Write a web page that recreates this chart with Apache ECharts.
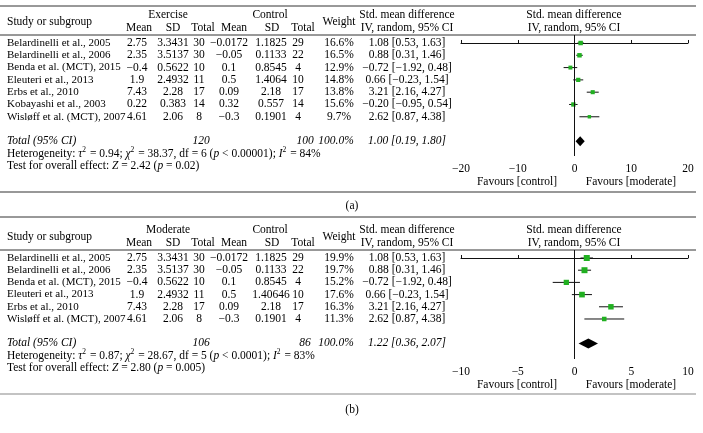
<!DOCTYPE html>
<html><head><meta charset="utf-8">
<script src="https://cdn.jsdelivr.net/npm/echarts@6/dist/echarts.min.js"></script>
<style>html,body{margin:0;padding:0;background:#fff}#c{width:703px;height:433px}</style>
</head><body><div id="c"></div>
<script>
// ---------- DATA: panel (a) ----------
const studiesA = ['Belardinelli et al., 2005','Belardinelli et al., 2006','Benda et al. (MCT), 2015','Eleuteri et al., 2013','Erbs et al., 2010','Kobayashi et al., 2003','Wisløff et al. (MCT), 2007'];
const expMeanA = [2.75, 2.35, -0.4, 1.9, 7.43, 0.22, 4.61];
const expSDA   = ['3.3431','3.5137','0.5622','2.4932','2.28','0.383','2.06'];
const expNA    = [30, 30, 10, 11, 17, 14, 8];
const ctlMeanA = [-0.0172, -0.05, 0.1, 0.5, 0.09, 0.32, -0.3];
const ctlSDA   = ['1.1825','0.1133','0.8545','1.4064','2.18','0.557','0.1901'];
const ctlNA    = [29, 22, 4, 10, 17, 14, 4];
const weightA  = [16.6, 16.5, 12.9, 14.8, 13.8, 15.6, 9.7];
const smdA     = [1.08, 0.88, -0.72, 0.66, 3.21, -0.20, 2.62];
const loA      = [0.53, 0.31, -1.92, -0.23, 2.16, -0.95, 0.87];
const hiA      = [1.63, 1.46, 0.48, 1.54, 4.27, 0.54, 4.38];
const totalA   = [1.00, 0.19, 1.80];
const totalNA  = [120, 100];
const ticksA   = [-20, 20, 10];
const hetA  = 'Heterogeneity: {i|τ}{s|2} = 0.94; {i|χ}{s|2} = 38.37, df = 6 ({i|p} < 0.00001); {i|I}{s|2} = 84%';
const testA = 'Test for overall effect: {i|Z} = 2.42 ({i|p} = 0.02)';

// ---------- DATA: panel (b) ----------
const studiesB = ['Belardinelli et al., 2005','Belardinelli et al., 2006','Benda et al. (MCT), 2015','Eleuteri et al., 2013','Erbs et al., 2010','Wisløff et al. (MCT), 2007'];
const modMeanB = [2.75, 2.35, -0.4, 1.9, 7.43, 4.61];
const modSDB   = ['3.3431','3.5137','0.5622','2.4932','2.28','2.06'];
const modNB    = [30, 30, 10, 11, 17, 8];
const ctlMeanB = [-0.0172, -0.05, 0.1, 0.5, 0.09, -0.3];
const ctlSDB   = ['1.1825','0.1133','0.8545','1.40646','2.18','0.1901'];
const ctlNB    = [29, 22, 4, 10, 17, 4];
const weightB  = [19.9, 19.7, 15.2, 17.6, 16.3, 11.3];
const smdB     = [1.08, 0.88, -0.72, 0.66, 3.21, 2.62];
const loB      = [0.53, 0.31, -1.92, -0.23, 2.16, 0.87];
const hiB      = [1.63, 1.46, 0.48, 1.54, 4.27, 4.38];
const totalB   = [1.22, 0.36, 2.07];
const totalNB  = [106, 86];
const ticksB   = [-10, 10, 5];
const hetB  = 'Heterogeneity: {i|τ}{s|2} = 0.87; {i|χ}{s|2} = 28.67, df = 5 ({i|p} < 0.0001); {i|I}{s|2} = 83%';
const testB = 'Test for overall effect: {i|Z} = 2.80 ({i|p} = 0.005)';

// ---------- layout / style ----------
const FONT = '"Liberation Serif","Times New Roman",serif';
const FS = 11.5;
const FSN = 11;
const GREEN = '#21b021';
const chart = echarts.init(document.getElementById('c'), null, {renderer:'canvas'});

function fmt(v){ return String(v).replace('-', '\u2212'); }
function f2(v){ return v.toFixed(2).replace(/-/g, '\u2212'); }

function forestItem(k){
  return function(params, api){
    const est = api.value(0), y = api.value(1), lo = api.value(2), hi = api.value(3), w = api.value(4);
    const pl = api.coord([lo, y]), ph = api.coord([hi, y]), pe = api.coord([est, y]);
    const s = k * Math.sqrt(w);
    return {type:'group', children:[
      {type:'line', shape:{x1:pl[0], y1:pl[1], x2:ph[0], y2:ph[1]}, style:{stroke:'#111', lineWidth:1}},
      {type:'rect', shape:{x:pe[0]-s/2, y:pe[1]-s/2, width:s, height:s}, style:{fill:GREEN}}
    ]};
  };
}
function diamondItem(params, api){
  const est = api.value(0), y = api.value(1), lo = api.value(2), hi = api.value(3);
  const pl = api.coord([lo, y]), ph = api.coord([hi, y]), pe = api.coord([est, y]);
  const h = 5;
  return {type:'polygon', shape:{points:[[pl[0],pl[1]],[pe[0],pe[1]-h],[ph[0],ph[1]],[pe[0],pe[1]+h]]}, style:{fill:'#000'}};
}

function xAx(gi, t){
  return {gridIndex:gi, type:'value', min:t[0], max:t[1], interval:t[2],
    axisLine:{lineStyle:{color:'#111', width:1}},
    axisTick:{inside:true, length:3, lineStyle:{color:'#111'}},
    axisLabel:{fontFamily:FONT, fontSize:FS, color:'#000', margin:7, formatter:v=>fmt(v)},
    splitLine:{show:false}};
}

const rowsA = smdA.map((v,i)=>[v, i, loA[i], hiA[i], weightA[i]]);
const rowsB = smdB.map((v,i)=>[v, i, loB[i], hiB[i], weightB[i]]);
const totIdxA = studiesA.length + 1;
const totIdxB = studiesB.length + 1;

chart.setOption({
  backgroundColor:'#fff',
  animation:false,
  grid:[
    {left:461, width:227, top:35, height:121},
    {left:461, width:227, top:250, height:109}
  ],
  xAxis:[xAx(0, ticksA), xAx(1, ticksB)],
  yAxis:[
    {gridIndex:0, type:'value', inverse:true, min:-0.65, max:9.19, show:false},
    {gridIndex:1, type:'value', inverse:true, min:-0.656, max:8.28, show:false}
  ],
  series:[
    {type:'custom', xAxisIndex:0, yAxisIndex:0, renderItem:forestItem(1.1), data:rowsA,
     markLine:{silent:true, symbol:'none', label:{show:false}, lineStyle:{color:'#111', width:1, type:'solid'}, data:[{xAxis:0}]}},
    {type:'custom', xAxisIndex:0, yAxisIndex:0, renderItem:diamondItem, data:[[totalA[0], totIdxA, totalA[1], totalA[2]]]},
    {type:'custom', xAxisIndex:1, yAxisIndex:1, renderItem:forestItem(1.35), data:rowsB,
     markLine:{silent:true, symbol:'none', label:{show:false}, lineStyle:{color:'#111', width:1, type:'solid'}, data:[{xAxis:0}]}},
    {type:'custom', xAxisIndex:1, yAxisIndex:1, renderItem:diamondItem, data:[[totalB[0], totIdxB, totalB[1], totalB[2]]]}
  ]
});

// ---------- table text ----------
const G = [];
function T(x, y, s, align, opt){
  opt = opt || {};
  const fs = opt.fs || FS;
  G.push({type:'text', x:x, y:y, silent:true, style:{
    text:s, fill:'#000', font:(opt.italic?'italic ':'')+fs+'px '+FONT,
    fontFamily:FONT, fontSize:fs, fontStyle:opt.italic?'italic':'normal',
    align:align||'left', verticalAlign:'middle', textAlign:align||'left', textVerticalAlign:'middle',
    rich:{
      i:{fontStyle:'italic', fontFamily:FONT, fontSize:fs, fill:'#000'},
      s:{fontFamily:FONT, fontSize:7.5, fill:'#000', padding:[0,1,7,0]}
    }
  }});
}
function L(x1, y, x2, color, w){
  G.push({type:'line', silent:true, shape:{x1:x1, y1:y, x2:x2, y2:y}, style:{stroke:color||'#222', lineWidth:w||1}});
}
const COL = {name:7, m1:137, sd1:173, n1:199, m2:229, sd2:271, n2:298, w:339, smd:407, plot:574};

function panel(gi, top, hdrLine, grp, studies, m1, sd1, n1, m2, sd2, n2, w, smd, lo, hi, tot, totN, het, test, favY, bottom, bottomColor, label, labelY){
  const py = i => chart.convertToPixel({gridIndex:gi}, [0, i])[1];
  L(0, top, 696, '#333', 1);
  L(0, hdrLine, 696, '#333', 1);
  const h1 = hdrLine - 20, h2 = hdrLine - 7, hm = hdrLine - 13;
  T(COL.name, hm, 'Study or subgroup');
  T(168, h1, grp, 'center');
  T(270, h1, 'Control', 'center');
  T(139, h2, 'Mean', 'center'); T(173, h2, 'SD', 'center'); T(203, h2, 'Total', 'center');
  T(234, h2, 'Mean', 'center'); T(272, h2, 'SD', 'center'); T(303, h2, 'Total', 'center');
  T(COL.w, hm, 'Weight', 'center');
  T(COL.smd, h1, 'Std. mean difference', 'center');
  T(COL.smd, h2, 'IV, random, 95% CI', 'center');
  T(COL.plot, h1, 'Std. mean difference', 'center');
  T(COL.plot, h2, 'IV, random, 95% CI', 'center');
  studies.forEach((s, i) => {
    const y = py(i);
    T(COL.name, y, s, 'left', {fs:FSN});
    T(COL.m1, y, fmt(m1[i]), 'center');
    T(COL.sd1, y, sd1[i], 'center');
    T(COL.n1, y, String(n1[i]), 'center');
    T(COL.m2, y, fmt(m2[i]), 'center');
    T(COL.sd2, y, sd2[i], 'center');
    T(COL.n2, y, String(n2[i]), 'center');
    T(COL.w, y, w[i].toFixed(1) + '%', 'center');
    T(COL.smd, y, f2(smd[i]) + ' [' + f2(lo[i]) + ', ' + f2(hi[i]) + ']', 'center');
  });
  const ti = studies.length + 1;
  const yt = py(ti);
  T(COL.name, yt, 'Total (95% CI)', 'left', {italic:true});
  T(201, yt, String(totN[0]), 'center', {italic:true});
  T(305, yt, String(totN[1]), 'center', {italic:true});
  T(336, yt, '100.0%', 'center', {italic:true});
  T(COL.smd, yt, f2(tot[0]) + ' [' + f2(tot[1]) + ', ' + f2(tot[2]) + ']', 'center', {italic:true});
  T(COL.name, py(ti + 1), het);
  T(COL.name, py(ti + 2), test);
  T(517, favY, 'Favours [control]', 'center');
  T(631, favY, 'Favours [moderate]', 'center');
  L(0, bottom, 696, bottomColor, 1.2);
  T(352, labelY, label, 'center');
}
panel(0, 6, 35, 'Exercise', studiesA, expMeanA, expSDA, expNA, ctlMeanA, ctlSDA, ctlNA, weightA, smdA, loA, hiA, totalA, totalNA, hetA, testA, 182, 192, '#333', '(a)', 206);
panel(1, 217, 250, 'Moderate', studiesB, modMeanB, modSDB, modNB, ctlMeanB, ctlSDB, ctlNB, weightB, smdB, loB, hiB, totalB, totalNB, hetB, testB, 385, 394, '#888', '(b)', 410);

chart.setOption({graphic:{elements:G}});
</script>
</body></html>
